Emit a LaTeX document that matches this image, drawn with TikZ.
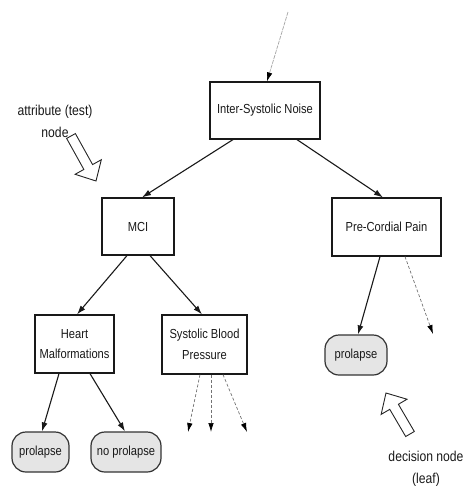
\documentclass[tikz,border=0pt]{standalone}
\usepackage{fontspec}
\setmainfont[FakeStretch=0.85]{Liberation Sans}
\usetikzlibrary{calc,arrows.meta}
\tikzset{
  box/.style={draw=black!90, line width=1.2pt, fill=white, inner sep=0pt, align=center,
    font=\fontsize{13.1}{20.5}\selectfont, text=black!90},
  leaf/.style={draw=black!80, line width=1.2pt, fill=black!10, rounded corners=14pt, inner sep=0pt,
    align=center, font=\fontsize{13.1}{20.5}\selectfont, text=black!90},
  conn/.style={line width=1.1pt, black!90, -{Latex[length=9pt,width=6pt]}},
  dconn/.style={line width=0.7pt, black!55, dash pattern=on 3pt off 2pt,
    -{Latex[length=9pt,width=5.5pt,fill=black,color=black]}},
  topconn/.style={line width=0.7pt, black!35, dash pattern=on 4pt off 1pt,
    -{Latex[length=9pt,width=5.5pt,fill=black,color=black]}},
  annot/.style={align=center, font=\fontsize{14.3}{22.5}\selectfont, text=black!90, inner sep=0pt},
  blockarrowstyle/.style={draw=black!85, fill=white, line width=0.9pt, line join=miter},
}
\newcommand{\blockarrow}[3]{%
  \coordinate (#3-b) at ($(#2)!16pt!(#1)$);
  \draw[blockarrowstyle] ($(#1)!5pt!90:(#2)$) -- ($(#3-b)!5pt!90:(#2)$) -- ($(#3-b)!15pt!90:(#2)$) -- (#2)
    -- ($(#3-b)!15pt!-90:(#2)$) -- ($(#3-b)!5pt!-90:(#2)$) -- ($(#1)!5pt!-90:(#2)$) -- cycle;
}
\begin{document}
\begin{tikzpicture}[x=1pt,y=-1pt]
\useasboundingbox (0,0) rectangle (464,488);

% attribute nodes
\node[box, minimum width=110pt, minimum height=57pt] (isn) at (265,110.5) {Inter-Systolic Noise};
\node[box, minimum width=72pt, minimum height=57pt] (mci) at (138,226.5) {MCI};
\node[box, minimum width=109pt, minimum height=58pt] (pcp) at (386.5,227) {Pre-Cordial Pain};
\node[box, minimum width=79pt, minimum height=58pt] (hm) at (74.5,344) {Heart\\Malformations};
\node[box, minimum width=85pt, minimum height=59pt] (sbp) at (204.5,344.5) {Systolic Blood\\Pressure};

% leaves
\node[leaf, minimum width=57pt, minimum height=40pt] (l1) at (40.5,452) {prolapse};
\node[leaf, minimum width=70pt, minimum height=40pt] (l2) at (126,452) {no prolapse};
\node[leaf, minimum width=62pt, minimum height=40pt] (l3) at (356,355) {prolapse};

% free ends
\coordinate (top) at (288,12);
\coordinate (pe) at (433,334);
\coordinate (s1) at (188,432);
\coordinate (s2) at (211,432);
\coordinate (s3) at (247,432);

% connectors
\draw[topconn] (top) -- ($(isn.north)+(2,0)$);
\draw[conn] ($(isn.south)+(-32,0)$) -- ($(mci.north)+(4,0)$);
\draw[conn] ($(isn.south)+(32,0)$) -- ($(pcp.north)+(-3.5,0)$);
\draw[conn] ($(mci.south)+(-11,0)$) -- ($(hm.north)+(2.5,0)$);
\draw[conn] ($(mci.south)+(12,0)$) -- ($(sbp.north)+(-2.5,0)$);
\draw[conn] ($(hm.south)+(-15.5,0)$) -- ($(l1.north)+(1.5,0)$);
\draw[conn] ($(hm.south)+(15.5,0)$) -- ($(l2.north)+(-1,0)$);
\draw[conn] ($(pcp.south)+(-6.5,0)$) -- ($(l3.north)+(2,0)$);
\draw[dconn] ($(pcp.south)+(18.5,0)$) -- (pe);
\draw[dconn] ($(sbp.south)+(-4.5,0)$) -- (s1);
\draw[dconn] ($(sbp.south)+(6.5,0)$) -- (s2);
\draw[dconn] ($(sbp.south)+(18.5,0)$) -- (s3);

% annotations
\node[annot] (attr) at (55,121.5) {attribute (test)\\node};
\node[annot] (dec) at (426,469) {decision node\\(leaf)};
\coordinate (a1t) at (71,136);
\coordinate (a1p) at (96,181);
\blockarrow{a1t}{a1p}{a1}
\coordinate (a2t) at (410,434);
\coordinate (a2p) at (386,393);
\blockarrow{a2t}{a2p}{a2}
\end{tikzpicture}
\end{document}
